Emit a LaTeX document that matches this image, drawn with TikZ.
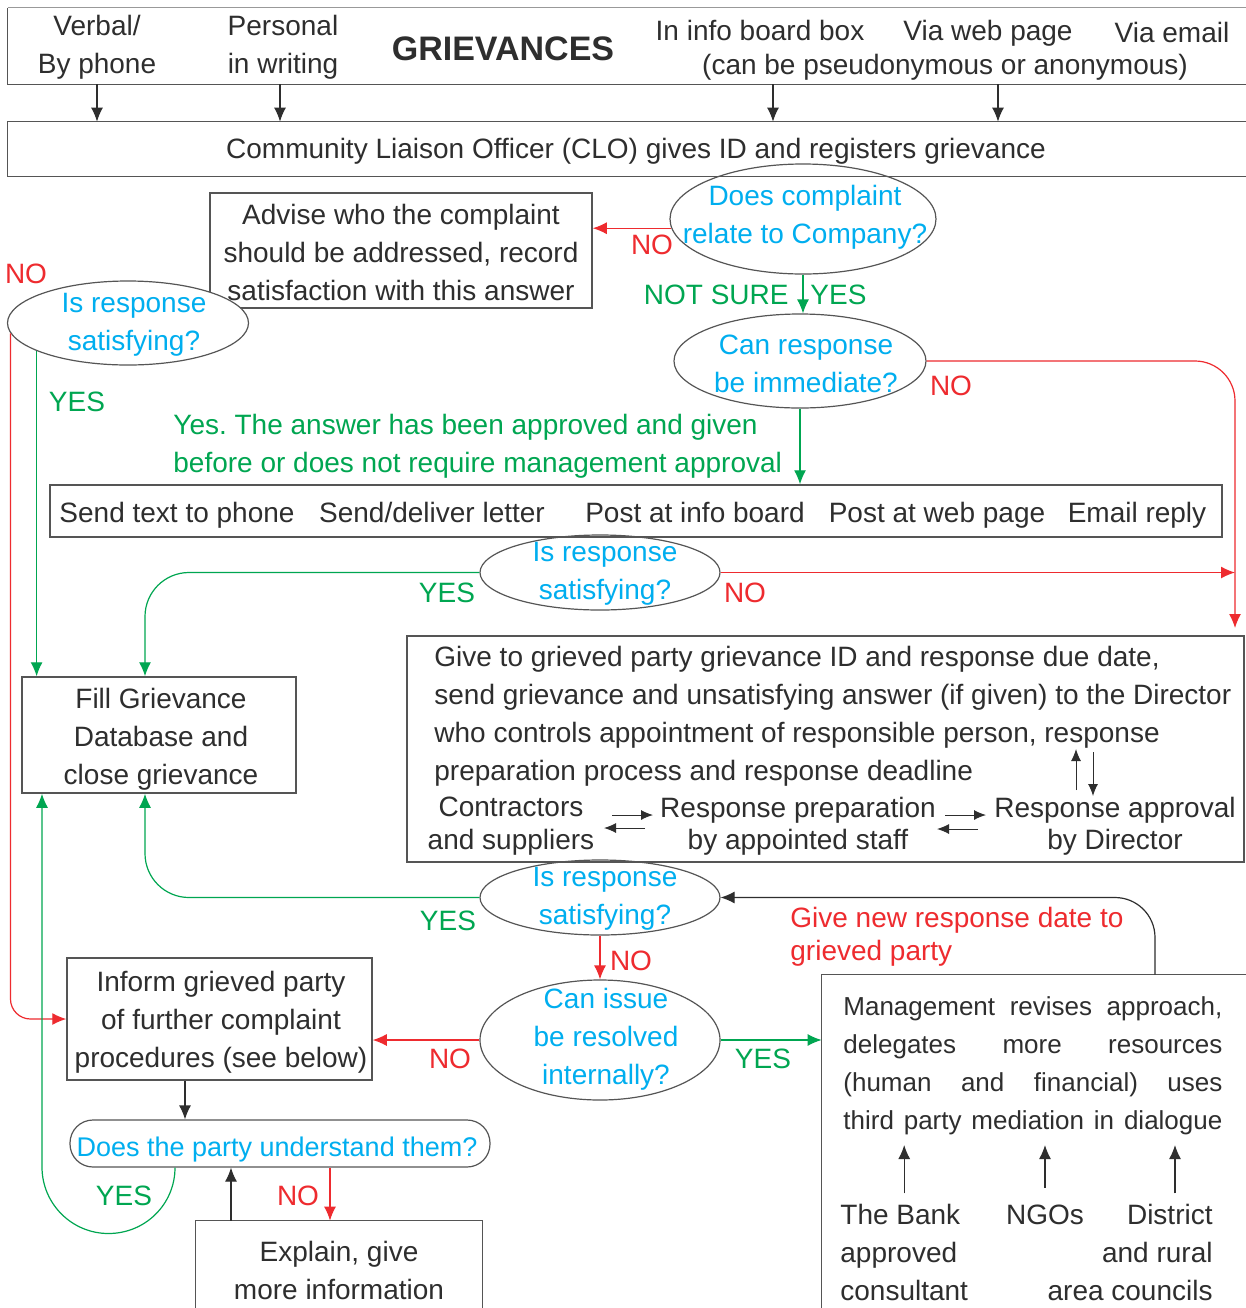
\documentclass[tikz,border=0pt]{standalone}
\usepackage{fontspec}
\setmainfont{Liberation Sans}
\usetikzlibrary{shapes.geometric,arrows.meta,calc}
\definecolor{txtc}{HTML}{2E2E2E}
\definecolor{boxc}{HTML}{555555}
\definecolor{qc}{HTML}{00AEEF}
\definecolor{gc}{HTML}{00A651}
\definecolor{rc}{HTML}{EE2B2F}
\newcommand\pu[1]{#1*0.5pt}
\frenchspacing
\begin{document}
\begin{tikzpicture}[x=0.5pt,y=-0.5pt,
 txt/.style={font=\fontsize{14}{19}\selectfont, text=txtc, align=center, inner sep=0pt},
 one/.style={text height=10pt, text depth=0pt},
 qtxt/.style={txt, text=qc},
 glab/.style={txt, one, text=gc},
 rlab/.style={txt, one, text=rc},
 bxs/.style={draw=boxc, line width=0.75pt, inner sep=0pt, rectangle},
 ghost/.style={draw=none, inner sep=0pt, rectangle},
 qell/.style={draw=boxc, line width=0.6pt, ellipse, inner sep=0pt},
 bline/.style={draw=boxc, line width=0.75pt},
 karr/.style={-{Latex[length=7pt,width=6pt]}, draw=txtc, line width=0.6pt},
 garr/.style={-{Latex[length=7pt,width=6pt]}, draw=gc, line width=0.6pt},
 rarr/.style={-{Latex[length=7pt,width=6pt]}, draw=rc, line width=0.6pt},
 sarr/.style={-{Latex[length=6pt,width=5pt]}, draw=txtc, line width=0.5pt},
]
\fill[white] (0,0) rectangle (1246,1308);
\useasboundingbox (0,0) rectangle (1246,1308);

% x positions
\coordinate (c97) at (97,0);
\coordinate (c280) at (280,0);
\coordinate (c773) at (773,0);
\coordinate (c998) at (998,0);
\coordinate (c145) at (145,0);
\coordinate (c1155) at (1155,0);
\coordinate (c185) at (185,0);
\coordinate (c330) at (330,0);
\coordinate (c231) at (231,0);
\coordinate (c175) at (175,0);
\coordinate (c42) at (42,0);
\coordinate (c1175) at (1175,0);
\coordinate (mtop) at (0,1145);
\coordinate (rend) at (1235,628);

% top box
\node[ghost, minimum width=\pu{1242}, minimum height=\pu{76}] (topbox) at (629,46) {};
\draw[bline, draw=boxc!60] (topbox.north east) -- (topbox.north west);
\draw[bline] (topbox.north west) -- (topbox.south west) -- (topbox.south east);
\node[txt] (verbal) at (97,47) {Verbal/\\By phone};
\node[txt] (personal) at (283,47) {Personal\\in writing};
\node[txt, one, font=\bfseries\fontsize{17}{20}\selectfont, text height=12pt] (title) at (503,48) {GRIEVANCES};
\node[txt, one] (board) at (760,30) {In info board box};
\node[txt, one] (webp) at (988,30) {Via web page};
\node[txt, one] (email) at (1172,32) {Via email};
\node[txt, one] (anon) at (945,64) {(can be pseudonymous or anonymous)};

% CLO
\node[ghost, minimum width=\pu{1242}, minimum height=\pu{54}] (clo) at (629,149) {};
\draw[bline] (clo.north east) -- (clo.north west) -- (clo.south west) -- (clo.south east);
\node[txt, one] (clotext) at (636,148) {Community Liaison Officer (CLO) gives ID and registers grievance};
\foreach \c in {c97,c280,c773,c998}
  \draw[karr] (topbox.south -| \c) -- (clo.north -| \c);

% q1
\node[qell, minimum width=\pu{266}, minimum height=\pu{110}] (q1) at (803,219) {};
\node[qtxt] (q1t) at (805,217) {Does complaint\\relate to Company?};

% advise
\node[bxs, minimum width=\pu{382}, minimum height=\pu{115}] (advise) at (401,250.5) {};
\node[txt] (adviset) at (401,252) {Advise who the complaint\\should be addressed, record\\satisfaction with this answer};
\draw[rarr] (q1.184) -- (q1.184 -| advise.east);
\node[rlab] (no1) at (652,244) {NO};

% qL
\node[qell, minimum width=\pu{241}, minimum height=\pu{84}, fill=white] (qL) at (128,323) {};
\node[qtxt] (qLt) at (134,325) {Is response\\satisfying?};
\node[rlab] (no2) at (26,273) {NO};
\node[glab] (yes2) at (77,401) {YES};

% q2
\node[qell, minimum width=\pu{252}, minimum height=\pu{94}] (q2) at (800,361) {};
\node[qtxt] (q2t) at (806,364) {Can response\\be immediate?};
\draw[garr] (q1.south) -- (q1.south |- q2.north);
\node[glab, anchor=east] (notsure) at (789,294) {NOT SURE};
\node[glab, anchor=west] (yes1) at (810,294) {YES};
\node[rlab] (no3) at (951,385) {NO};

% responses
\node[bxs, minimum width=\pu{1172}, minimum height=\pu{52}] (resp) at (636,511) {};
\draw[garr] (q2.south) -- (q2.south |- resp.north);
\node[glab, align=left, anchor=west, text height=, text depth=] (yestext) at (173,446) {Yes. The answer has been approved and given\\before or does not require management approval};
\node[txt, one] (r1) at (177,512) {Send text to phone};
\node[txt, one] (r2) at (432,512) {Send/deliver letter};
\node[txt, one] (r3) at (695,512) {Post at info board};
\node[txt, one] (r4) at (937,512) {Post at web page};
\node[txt, one] (r5) at (1137,512) {Email reply};

% q3
\node[qell, minimum width=\pu{240}, minimum height=\pu{75}] (q3) at (600,572.5) {};
\node[qtxt] (q3t) at (605,574) {Is response\\satisfying?};
\node[glab] (yes3) at (447,592) {YES};
\node[rlab] (no4) at (745,592) {NO};

% give box
\node[bxs, minimum width=\pu{837}, minimum height=\pu{226}] (give) at (825.5,749) {};
\node[txt, align=left, anchor=west] (givet) at (434,716) {Give to grieved party grievance ID and response due date,\\send grievance and unsatisfying answer (if given) to the Director\\who controls appointment of responsible person, response\\preparation process and response deadline};
\node[txt, font=\fontsize{14}{16.5}\selectfont] (contr) at (511,826) {Contractors\\and suppliers};
\node[txt, font=\fontsize{14}{16}\selectfont] (prep) at (798,826) {Response preparation\\by appointed staff};
\node[txt, font=\fontsize{14}{16}\selectfont] (appr) at (1115,826) {Response approval\\by Director};
\coordinate (s1a) at (612,815); \coordinate (s1b) at (653,815);
\coordinate (s2a) at (645,828); \coordinate (s2b) at (604,828);
\coordinate (s3a) at (945,815); \coordinate (s3b) at (986,815);
\coordinate (s4a) at (978,829); \coordinate (s4b) at (937,829);
\coordinate (s5a) at (1076,790); \coordinate (s5b) at (1076,749);
\coordinate (s6a) at (1093,752); \coordinate (s6b) at (1093,796);
\draw[sarr] (s1a) -- (s1b);
\draw[sarr] (s2a) -- (s2b);
\draw[sarr] (s3a) -- (s3b);
\draw[sarr] (s4a) -- (s4b);
\draw[sarr] (s5a) -- (s5b);
\draw[sarr] (s6a) -- (s6b);

% red routes to give box
\draw[rarr, rounded corners=20pt] (q2.east) -| (rend);
\draw[rarr] (q3.east) -- (q3.east -| rend);

% fill box
\node[bxs, minimum width=\pu{274}, minimum height=\pu{116}] (fill) at (159,735) {};
\node[txt] (fillt) at (161,739) {Fill Grievance\\Database and\\close grievance};
\draw[garr] (qL.197) -- (qL.197 |- fill.north);
\draw[garr, rounded corners=22pt] (q3.west) -| (c145 |- fill.north);

% q4
\node[qell, minimum width=\pu{240}, minimum height=\pu{75}] (q4) at (600,897.5) {};
\node[qtxt] (q4t) at (605,899) {Is response\\satisfying?};
\draw[garr, rounded corners=22pt] (q4.west) -| (c145 |- fill.south);
\node[glab] (yes4) at (448,920) {YES};

% management box
\node[ghost, minimum width=\pu{428}, minimum height=\pu{337}] (mgmt) at (1036,1143.5) {};
\draw[bline] (mgmt.north east) -- (mgmt.north west) -- (mgmt.south west);
\draw[karr, rounded corners=20pt] (c1155 |- mgmt.north) |- (q4.east);
\node[rlab, align=left, anchor=west, text height=, text depth=, font=\fontsize{14}{16.5}\selectfont] (newdate) at (790,937) {Give new response date to\\grieved party};

% q5
\node[qell, minimum width=\pu{240}, minimum height=\pu{120}] (q5) at (600,1040) {};
\node[qtxt] (q5t) at (606,1039) {Can issue\\be resolved\\internally?};
\draw[rarr] (q4.south) -- (q5.north);
\node[rlab] (no5) at (631,960) {NO};

% inform
\node[bxs, minimum width=\pu{305}, minimum height=\pu{122}] (inform) at (219.5,1019) {};
\node[txt] (informt) at (221,1022) {Inform grieved party\\of further complaint\\procedures (see below)};
\draw[rarr, rounded corners=10pt] (qL.185) |- (inform.west);
\draw[rarr] (q5.west) -- (q5.west -| inform.east);
\node[rlab] (no6) at (450,1058) {NO};
\draw[garr] (q5.east) -- (q5.east -| mgmt.west);
\node[glab] (yes6) at (763,1058) {YES};

% understand
\node[draw=boxc, line width=0.6pt, rounded corners=11.5pt, minimum width=\pu{420}, minimum height=\pu{47}, inner sep=0pt] (und) at (280,1143.5) {};
\node[qtxt, one, font=\fontsize{13.5}{19}\selectfont] (undt) at (277,1146) {Does the party understand them?};
\draw[karr] (c185 |- inform.south) -- (c185 |- und.north);

% explain
\node[ghost, minimum width=\pu{286}, minimum height=\pu{89}] (explain) at (339,1265.5) {};
\draw[bline] (explain.south west) -- (explain.north west) -- (explain.north east) -- (explain.south east);
\node[txt] (explaint) at (339,1270) {Explain, give\\more information};
\draw[rarr] (c330 |- und.south) -- (c330 |- explain.north);
\draw[karr] (c231 |- explain.north) -- (c231 |- und.south);
\node[rlab] (no7) at (298,1195) {NO};
\node[glab] (yes7) at (124,1195) {YES};
\draw[garr] (c175 |- und.south) .. controls +(0,36.7) and +(36.7,0) .. (108.5,1233.5) .. controls +(-36.7,0) and +(0,36.7) .. (42,1167) -- (c42 |- fill.south);

% management text
\node[txt, align=left, anchor=west, font=\fontsize{13}{19}\selectfont] (mgmtt) at (843,1066) {\makebox[189.5pt][s]{Management revises approach,}\\\makebox[189.5pt][s]{delegates more resources}\\\makebox[189.5pt][s]{(human and financial) uses}\\\makebox[189.5pt][s]{third party mediation in dialogue}};
\node[txt, align=left, anchor=west] (bank) at (840,1252) {The Bank\\approved\\consultant};
\node[txt, one] (ngo) at (1045,1214) {NGOs};
\node[txt, align=right, anchor=east] (dist) at (1213,1252) {District\\and rural\\area councils};
\draw[karr, shorten <=5pt] (bank.north) -- (bank.north |- mtop);
\draw[karr, shorten <=8pt] (ngo.north) -- (ngo.north |- mtop);
\draw[karr, shorten <=5pt] (c1175 |- dist.north) -- (c1175 |- mtop);
\end{tikzpicture}
\end{document}
